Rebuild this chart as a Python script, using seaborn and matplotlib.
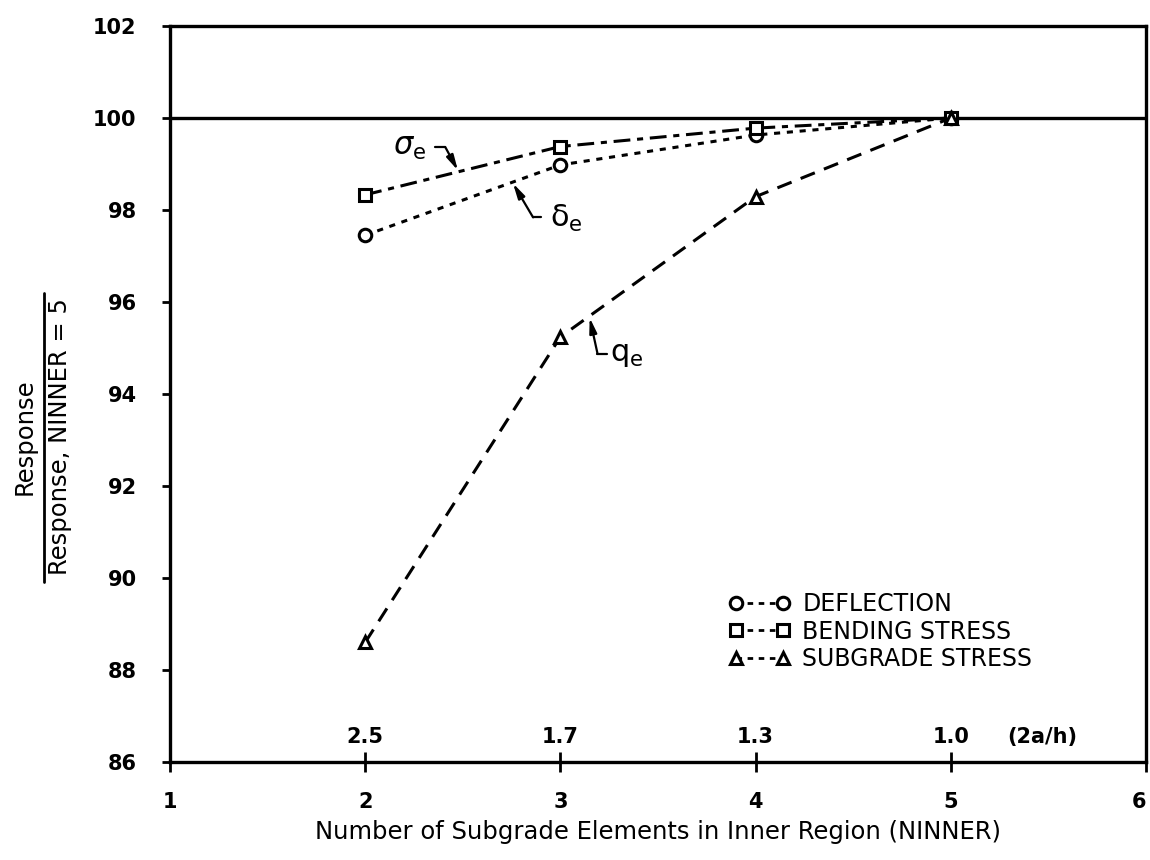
import matplotlib
matplotlib.use("Agg")
import matplotlib.pyplot as plt
import matplotlib.lines as mlines
import seaborn as sns
import pandas as pd

# Number of subgrade elements in the inner region (NINNER)
ninner = [2, 3, 4, 5]
# Response relative to NINNER = 5, in percent
deflection = [97.45, 98.98, 99.63, 100.0]
bending_stress = [98.33, 99.38, 99.78, 100.0]
subgrade_stress = [88.6, 95.24, 98.29, 100.0]

# Element size ratio 2a/h that goes with each NINNER value
ratio_labels = ["2.5", "1.7", "1.3", "1.0"]

x_ticks = [1, 2, 3, 4, 5, 6]
y_ticks = [86, 88, 90, 92, 94, 96, 98, 100, 102]

sns.set_style("ticks")
plt.rcParams["font.family"] = ["DejaVu Sans"]
plt.rcParams.update({
    "text.color": "black",
    "axes.labelcolor": "black",
    "xtick.color": "black",
    "ytick.color": "black",
})

fig = plt.figure(figsize=(11.5, 8.6), dpi=100)
ax = fig.add_axes([170 / 1150, 98 / 860, 976 / 1150, 736 / 860])

df = pd.DataFrame({
    "ninner": ninner * 3,
    "value": deflection + bending_stress + subgrade_stress,
    "series": (["DEFLECTION"] * 4 + ["BENDING STRESS"] * 4
               + ["SUBGRADE STRESS"] * 4),
})

styles = {
    "DEFLECTION": dict(marker="o", linestyle=(0, (2.0, 2.2))),
    "BENDING STRESS": dict(marker="s", linestyle=(0, (5.5, 2.2, 2.0, 2.2))),
    "SUBGRADE STRESS": dict(marker="^", linestyle=(0, (5.0, 3.2))),
}

for name, st in styles.items():
    sub = df[df["series"] == name]
    sns.lineplot(data=sub, x="ninner", y="value", ax=ax, color="black",
                 lw=2.2, marker=st["marker"], linestyle=st["linestyle"],
                 markersize=9, markerfacecolor="white",
                 markeredgecolor="black", markeredgewidth=2.2,
                 label=name, errorbar=None)

ax.axhline(100, color="black", lw=2.4, zorder=1)

ax.set_xlim(1, 6)
ax.set_ylim(86, 102)
ax.set_xticks(x_ticks)
ax.set_yticks(y_ticks)
ax.tick_params(axis="x", direction="inout", length=15, width=2,
               pad=14, labelsize=15)
ax.tick_params(axis="y", direction="out", length=6, width=2,
               pad=18, labelsize=15)
for lab in ax.get_xticklabels() + ax.get_yticklabels():
    lab.set_fontweight("bold")
ax.get_xticklabels()[-1].set_ha("right")
for side in ["left", "right", "top", "bottom"]:
    ax.spines[side].set_visible(True)
    ax.spines[side].set_linewidth(2.4)
    ax.spines[side].set_color("black")

ax.set_xlabel("Number of Subgrade Elements in Inner Region (NINNER)",
              fontsize=17.5, labelpad=6)
ax.set_ylabel("")

# Secondary scale: 2a/h along the bottom axis
for xv, lab in zip(ninner, ratio_labels):
    ax.text(xv, 86.55, lab, ha="center", va="center", fontsize=15,
            fontweight="bold")
ax.text(5.47, 86.55, "(2a/h)", ha="center", va="center", fontsize=15,
        fontweight="bold")

# Curve labels with leader arrows
arrow = dict(arrowstyle="-|>,head_length=0.9,head_width=0.22",
             color="black", lw=1.6, shrinkA=0, shrinkB=0)

ax.text(2.23, 99.36, r"$\sigma_{\mathregular{e}}$", fontsize=22,
        ha="center", va="center")
ax.plot([2.36, 2.41], [99.37, 99.37], color="black", lw=1.6)
ax.annotate("", xy=(2.475, 98.86), xytext=(2.41, 99.37), arrowprops=arrow)

ax.text(3.03, 97.82, r"$\mathregular{\delta_e}$", fontsize=22,
        ha="center", va="center")
ax.plot([2.86, 2.90], [97.84, 97.84], color="black", lw=1.6)
ax.annotate("", xy=(2.757, 98.58), xytext=(2.86, 97.84), arrowprops=arrow)

ax.text(3.34, 94.85, r"$\mathregular{q_e}$", fontsize=22,
        ha="center", va="center")
ax.plot([3.19, 3.24], [94.88, 94.88], color="black", lw=1.6)
ax.annotate("", xy=(3.15, 95.66), xytext=(3.19, 94.88), arrowprops=arrow)

# Legend with a marker at both ends of each sample
handles = [
    mlines.Line2D([], [], color="black", lw=2.0, linestyle=(0, (2.0, 2.0)),
                  marker=styles[n]["marker"], markersize=9,
                  markerfacecolor="white", markeredgecolor="black",
                  markeredgewidth=2.2)
    for n in styles
]
ax.legend(handles, list(styles.keys()), loc="upper left",
          bbox_to_anchor=(0.556, 0.253), frameon=False, numpoints=2,
          handlelength=2.6, handletextpad=0.5, labelspacing=0.14,
          borderpad=0.2, prop=dict(size=17))

# Two-line fraction used as the y-axis title
fig.text(25 / 1150, 1 - 437 / 860, "Response", rotation=90,
         ha="center", va="center", fontsize=17.5)
fig.add_artist(mlines.Line2D([44 / 1150, 44 / 1150],
                             [1 - 582 / 860, 1 - 293 / 860],
                             color="black", lw=2.0))
fig.text(60 / 1150, 1 - 437 / 860, "Response, NINNER = 5", rotation=90,
         ha="center", va="center", fontsize=17.5)

fig.savefig("out.png", dpi=100, facecolor="white")
